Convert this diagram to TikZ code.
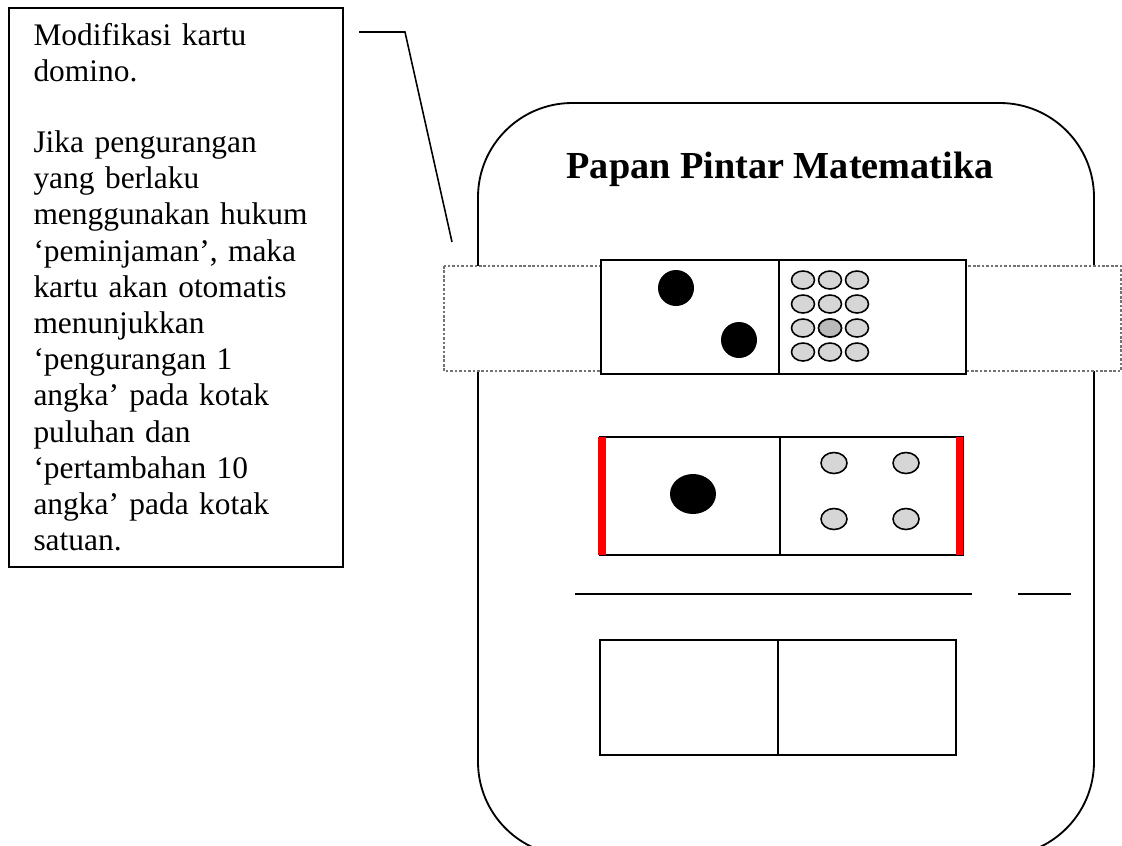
\documentclass[tikz,border=0pt]{standalone}
\usepackage{fontspec}
\setmainfont{Liberation Serif}

\tikzset{
    kartu/.style={line width=0.8pt},
    mata/.style={draw, line width=0.6pt, fill=black!16},
    teks/.style={font=\fontsize{12}{13.83}\selectfont, text width=125pt, align=left, inner sep=0pt},
}

\begin{document}
\begin{tikzpicture}[x=0.382pt,y=-0.382pt]
        \useasboundingbox (0,0) rectangle (1122,846);
        %% keterangan
        \draw[line width=0.7pt] (9,8) rectangle (343,567);
        \node[teks,anchor=base west] (ket) at (33,45) {Modifikasi kartu\\ domino.\\[13.4pt]
            Jika pengurangan\\ yang berlaku\\ menggunakan hukum\\ ‘peminjaman’, maka\\
            kartu akan otomatis\\ menunjukkan\\ ‘pengurangan 1\\ angka’ pada kotak\\
            puluhan dan\\ ‘pertambahan 10\\ angka’ pada kotak\\ satuan.};
        \coordinate (k1) at (359,32);
        \coordinate (k2) at (405,32);
        \coordinate (k3) at (452,242);
        \draw[line width=0.6pt] (k1) -- (k2) -- (k3);
        %% papan
        \draw[line width=0.7pt,rounded corners=36pt] (478,103) rectangle (1094,856);
        \node[font=\fontsize{14.6}{17}\selectfont\bfseries,anchor=base] (judul) at (780,178) {Papan Pintar Matematika};
        %% lembar geser
        \draw[black!55,fill=white,line width=0.5pt,dash pattern=on 1pt off 0.7pt] (444,266) rectangle (1121,371);
        %% kartu atas
        \draw[kartu,fill=white] (601,260) rectangle (966,374);
        \draw[kartu] (779,260) -- (779,374);
        \fill (676,288) circle (18);
        \fill (739,340) circle (18);
        \foreach \y in {280,304,328,352}
            \foreach \x in {803,830,857}
                \draw[mata] (\x,\y) ellipse (11.5 and 9);
        \draw[mata,fill=black!27] (830,328) ellipse (11.5 and 9);
        %% kartu tengah
        \draw[kartu] (600,437) rectangle (963,555);
        \draw[kartu] (780,437) -- (780,555);
        \fill[red] (598,437) rectangle (606,555);
        \fill[red] (956,437) rectangle (963,555);
        \fill (693,494) ellipse (23 and 20);
        \foreach \x in {834,906}
            \foreach \y in {463,519}
                \draw[mata] (\x,\y) ellipse (13 and 10.5);
        %% garis hasil
        \draw[line width=0.8pt] (575,594) -- (972,594);
        \draw[line width=0.8pt] (1018,594) -- (1071,594);
        %% kartu bawah
        \draw[kartu] (600,640) rectangle (956,755);
        \draw[kartu] (778,640) -- (778,755);
    \end{tikzpicture}
\end{document}
